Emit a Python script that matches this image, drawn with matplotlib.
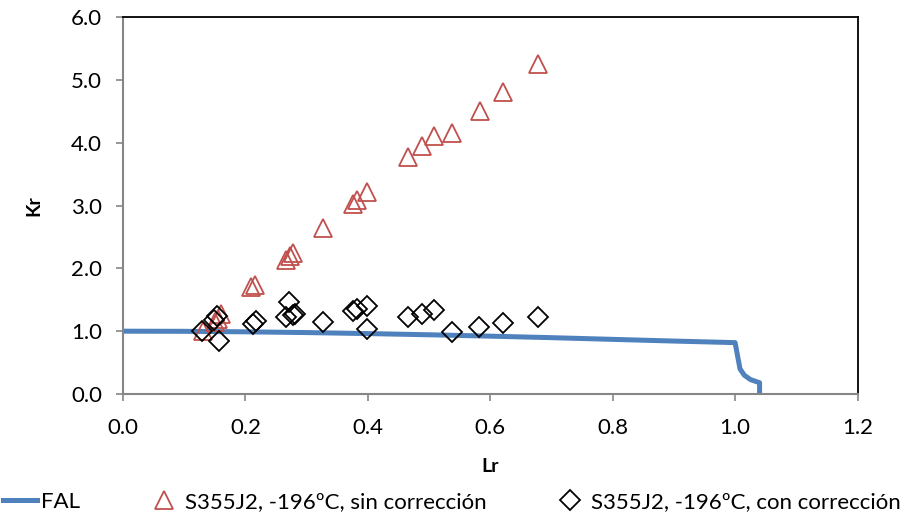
import matplotlib
matplotlib.use("Agg")
import matplotlib.pyplot as plt
from matplotlib.lines import Line2D

plt.rcParams['font.family'] = ['Lato', 'DejaVu Sans']

# FAL failure assessment line
fal_lr = [0.0, 0.1, 0.2, 0.3, 0.4, 0.5, 0.6, 0.7, 0.8, 0.9, 1.0,
          1.008, 1.015, 1.025, 1.04, 1.04]
fal_kr = [1.0, 0.998, 0.990, 0.978, 0.962, 0.943, 0.921, 0.897, 0.870, 0.843, 0.818,
          0.40, 0.30, 0.23, 0.18, 0.0]

# S355J2, -196 ºC, without correction
sin_lr = [0.130, 0.150, 0.155, 0.160, 0.210, 0.216, 0.267, 0.273, 0.278,
          0.326, 0.376, 0.382, 0.398, 0.466, 0.489, 0.508, 0.537, 0.583,
          0.621, 0.678]
sin_kr = [1.00, 1.15, 1.20, 1.27, 1.71, 1.74, 2.13, 2.19, 2.24,
          2.64, 3.03, 3.08, 3.22, 3.77, 3.95, 4.11, 4.15, 4.50,
          4.81, 5.25]

# S355J2, -196 ºC, with correction
con_lr = [0.129, 0.148, 0.154, 0.157, 0.212, 0.217, 0.267, 0.272, 0.277,
          0.281, 0.326, 0.376, 0.382, 0.398, 0.398, 0.466, 0.489, 0.508,
          0.537, 0.582, 0.621, 0.678]
con_kr = [1.01, 1.18, 1.24, 0.84, 1.12, 1.16, 1.22, 1.47, 1.26,
          1.28, 1.14, 1.32, 1.35, 1.40, 1.03, 1.23, 1.27, 1.33,
          0.98, 1.06, 1.13, 1.23]

x_ticks = [0.0, 0.2, 0.4, 0.6, 0.8, 1.0, 1.2]
y_ticks = [0.0, 1.0, 2.0, 3.0, 4.0, 5.0, 6.0]

labels = ["FAL", "S355J2, -196ºC, sin corrección", "S355J2, -196ºC, con corrección"]

blue = "#4F81BD"
red = "#C0504D"
gray = "#868686"

fig = plt.figure(figsize=(9.04, 5.19), dpi=100)
ax = fig.add_axes([0.136, 0.2408, 0.8126, 0.7264])

ax.plot(fal_lr, fal_kr, color=blue, lw=3.6, solid_joinstyle='round', zorder=2)
ax.plot(sin_lr, sin_kr, ls='none', marker='^', ms=13, mfc='none', mec=red,
        mew=1.3, zorder=3)
ax.plot(con_lr, con_kr, ls='none', marker='D', ms=10, mfc='none', mec='black',
        mew=1.3, zorder=4)

ax.set_xlim(0, 1.2)
ax.set_ylim(0, 6)
ax.set_xticks(x_ticks)
ax.set_yticks(y_ticks)
ax.set_xticklabels([f"{v:.1f}" for v in x_ticks])
ax.set_yticklabels([f"{v:.1f}" for v in y_ticks])
ax.tick_params(axis='both', labelsize=16, length=5, width=1.2, color=gray,
               direction='out')
ax.tick_params(axis='x', pad=12)
ax.tick_params(axis='y', pad=10)

for side in ('left', 'bottom'):
    ax.spines[side].set_color(gray)
    ax.spines[side].set_linewidth(1.5)
for side in ('top', 'right'):
    ax.spines[side].set_color('black')
    ax.spines[side].set_linewidth(1.3)

ax.set_xlabel("Lr", fontsize=14, fontweight='bold')
ax.set_ylabel("Kr", fontsize=14, fontweight='bold')
ax.xaxis.set_label_coords(0.5, -0.17)
ax.yaxis.set_label_coords(-0.11, 0.5)

handles = [
    Line2D([], [], color=blue, lw=3.6),
    Line2D([], [], ls='none', marker='^', ms=13, mfc='none', mec=red, mew=1.3),
    Line2D([], [], ls='none', marker='D', ms=10, mfc='none', mec='black', mew=1.3),
]
fig.legend(handles, labels, loc='lower center', bbox_to_anchor=(0.5, -0.025),
           ncol=3, frameon=False, fontsize=16, handlelength=1.5,
           handletextpad=0.2, columnspacing=3.0)

fig.savefig("out.png", dpi=100)
